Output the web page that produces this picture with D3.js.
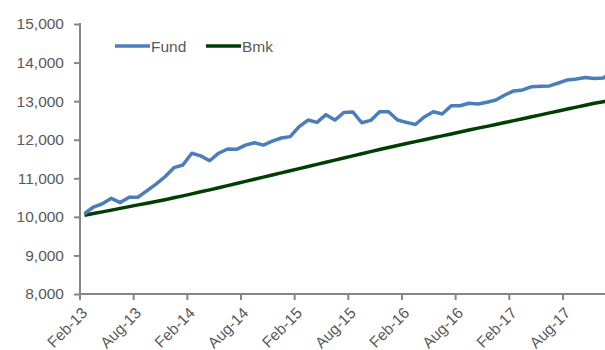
<!DOCTYPE html>
<head>
    <style>
        body { margin: 0; background: #fff; }
        .tick text, .legend text {
            font: 15.5px "Liberation Sans", Arial, sans-serif;
            fill: #595959;
        }
    </style>
    <script src="https://d3js.org/d3.v7.min.js"></script>
</head>
<body>
    <svg width="605" height="350"></svg>
    <script>
        // monthly categories Feb-13 .. Jan-18
        var months = d3.timeMonth.range(new Date(2013, 1, 1), new Date(2018, 1, 1));
        var fmt = d3.timeFormat("%b-%y");
        var categories = months.map(fmt);

        var fund = [10080, 10255, 10340, 10480, 10370, 10510, 10510, 10680, 10850, 11040,
                    11275, 11345, 11650, 11580, 11455, 11650, 11760, 11750, 11860, 11920,
                    11860, 11965, 12045, 12080, 12340, 12510, 12450, 12650, 12510, 12705,
                    12720, 12440, 12500, 12725, 12725, 12510, 12450, 12395, 12590, 12725,
                    12665, 12880, 12880, 12945, 12925, 12970, 13030, 13160, 13265, 13290,
                    13375, 13385, 13395, 13470, 13550, 13575, 13615, 13590, 13600, 13760];

        var bmk = [10040, 10085, 10130, 10175, 10220, 10265, 10310, 10355, 10400, 10445,
                   10495, 10545, 10595, 10650, 10700, 10755, 10810, 10865, 10920, 10975,
                   11030, 11085, 11140, 11195, 11250, 11305, 11360, 11415, 11470, 11525,
                   11580, 11635, 11690, 11745, 11800, 11850, 11900, 11950, 12000, 12050,
                   12100, 12150, 12200, 12250, 12300, 12345, 12395, 12445, 12495, 12545,
                   12595, 12645, 12695, 12745, 12795, 12845, 12895, 12945, 12985, 13030];

        var yTicks = [8000, 9000, 10000, 11000, 12000, 13000, 14000, 15000];
        var xTickLabels = ["Feb-13", "Aug-13", "Feb-14", "Aug-14", "Feb-15", "Aug-15",
                           "Feb-16", "Aug-16", "Feb-17", "Aug-17"];

        var series = [
            { name: "Fund", values: fund, color: "#4a7ebb" },
            { name: "Bmk", values: bmk, color: "#003f00" }
        ];

        var svg = d3.select("svg");
        var plotLeft = 80, plotTop = 24, plotBottom = 294, step = 8.944;

        var x = d3.scaleBand()
                  .domain(categories)
                  .range([plotLeft, plotLeft + categories.length * step]);
        var y = d3.scaleLinear().domain([8000, 15000]).range([plotBottom, plotTop]);

        // y axis
        var yAxis = svg.append("g")
            .attr("transform", "translate(" + plotLeft + ",0)")
            .call(d3.axisLeft(y).tickValues(yTicks).tickFormat(d3.format(",")).tickSize(6).tickPadding(10));
        yAxis.selectAll("line, path").attr("stroke", "#868686").attr("stroke-width", 2);
        yAxis.select("path").attr("d", "M0," + (plotTop - 1) + "V" + plotBottom);

        // x axis: ticks on category boundaries
        var xAxis = svg.append("g").attr("transform", "translate(0," + plotBottom + ")");
        xAxis.append("line")
             .attr("x1", plotLeft).attr("x2", x.range()[1])
             .attr("stroke", "#868686").attr("stroke-width", 2);
        var xt = xAxis.selectAll(".tick")
             .data(xTickLabels)
             .enter().append("g").attr("class", "tick");
        xt.append("line")
          .attr("x1", function(d) { return x(d); })
          .attr("x2", function(d) { return x(d); })
          .attr("y2", 6)
          .attr("stroke", "#868686").attr("stroke-width", 2);
        xt.append("text")
          .attr("text-anchor", "end")
          .attr("transform", function(d) {
              return "translate(" + (x(d) + x.bandwidth() / 2 + 4) + ",20) rotate(-45)";
          })
          .text(function(d) { return d; });

        // lines
        var line = d3.line()
            .x(function(d, i) { return x(categories[i]) + x.bandwidth() / 2; })
            .y(function(d) { return y(d); });

        svg.selectAll(".series")
           .data(series.slice().reverse())
           .enter().append("path")
           .attr("class", "series")
           .attr("d", function(s) { return line(s.values); })
           .attr("fill", "none")
           .attr("stroke", function(s) { return s.color; })
           .attr("stroke-width", 3.5)
           .attr("stroke-linejoin", "round");

        // legend
        var legend = svg.append("g").attr("class", "legend");
        var lg = legend.selectAll("g")
            .data(series)
            .enter().append("g")
            .attr("transform", function(d, i) { return "translate(" + (115 + i * 91) + ",46)"; });
        lg.append("line")
          .attr("x2", 35)
          .attr("stroke", function(d) { return d.color; })
          .attr("stroke-width", 3.5);
        lg.append("text")
          .attr("x", 36).attr("y", 5.5)
          .text(function(d) { return d.name; });
    </script>
</body>
</html>
